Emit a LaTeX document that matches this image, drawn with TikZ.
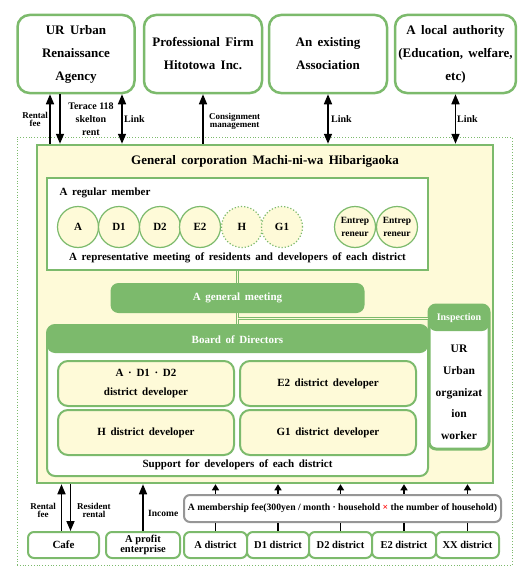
\documentclass[tikz,border=0pt]{standalone}
\usepackage{fontspec}
\setmainfont{Liberation Serif}
\usetikzlibrary{arrows.meta, positioning, calc}

\definecolor{grn}{RGB}{124,186,108}
\definecolor{cream}{RGB}{254,250,216}
\definecolor{feegray}{RGB}{150,150,150}
\newcommand{\fsz}[2]{\fontsize{#1}{#2}\selectfont\bfseries\spaceskip=.42em plus .1em\relax}
\newcommand{\fsn}[2]{\fontsize{#1}{#2}\selectfont\bfseries}

\begin{document}
\begin{tikzpicture}[x=1pt, y=-1pt,
    party/.style={rectangle, rounded corners=12pt, draw=grn, line width=2.5pt, fill=white, minimum width=117pt, minimum height=78pt, align=center, font=\fsz{13}{23}},
    circ/.style={circle, draw=grn, line width=1.2pt, fill=cream, minimum size=41pt, inner sep=0pt, align=center, font=\fsz{11}{11}},
    dcirc/.style={circ, dotted},
    devbox/.style={rectangle, rounded corners=10pt, draw=grn, line width=2pt, fill=cream, minimum width=176pt, minimum height=45pt, align=center, font=\fsz{11}{19}},
    dist/.style={rectangle, rounded corners=6pt, draw=grn, line width=2pt, fill=white, minimum height=26pt, inner sep=1pt, align=center, font=\fsn{10.5}{9}},
    note/.style={inner sep=1pt, align=center, font=\fsn{9}{8}},
    conn/.style={draw=grn, double=cream, double distance=1.6pt, line width=0.9pt},
    arr/.style={-{Triangle[length=10pt, width=8pt]}, line width=1.6pt},
    arrs/.style={{Triangle[length=10pt, width=8pt]}-{Triangle[length=10pt, width=8pt]}, line width=1.6pt},
    farr/.style={-{Triangle[length=6pt, width=7pt]}, line width=1.3pt}
]
\useasboundingbox (0,0) rectangle (528,578);

% Outside partners
\node[party] (ur) at (76,54) {UR Urban\\Renaissance\\Agency};
\node[party, minimum width=118pt] (firm) at (203,54) {Professional Firm\\Hitotowa Inc.};
\node[party, minimum width=118pt] (assoc) at (328,54) {An existing\\Association};
\node[party] (local) at (455.5,54) {A local authority\\(Education, welfare,\\etc)};

% Area of the corporation
\node[draw=grn, dotted, line width=0.8pt, minimum width=495pt, minimum height=428pt] (area) at (264.5,351) {};
\node[draw=grn, line width=2.5pt, fill=cream, minimum width=456pt, minimum height=338pt] (main) at (265,314) {};
\node[font=\fsz{13}{13}] (title) at (265,161) {General corporation Machi-ni-wa Hibarigaoka};

% Regular members
\node[draw=grn, line width=2pt, fill=white, minimum width=381pt, minimum height=92pt] (member) at (237.5,224) {};
\node[anchor=west, font=\fsz{11}{11}] (memlabel) at (56,193) {A regular member};
\node[circ] (ca) at (78,227) {A};
\node[circ] (cd1) at (119,227) {D1};
\node[circ] (cd2) at (160,227) {D2};
\node[circ] (ce2) at (200,227) {E2};
\node[dcirc] (ch) at (242,227) {H};
\node[dcirc] (cg1) at (282,227) {G1};
\node[circ, font=\fsn{9.5}{13}] (en1) at (355,227) {Entrep\\reneur};
\node[circ, font=\fsn{9.5}{13}] (en2) at (397,227) {Entrep\\reneur};
\node[font=\fsz{11}{11}] (rep) at (237.5,258) {A representative meeting of residents and developers of each district};

% General meeting
\node[rectangle, rounded corners=8pt, fill=grn, minimum width=254pt, minimum height=30pt, text=white, font=\fsz{11}{11}] (gm) at (237.5,298) {A general meeting};

% Board of directors
\node[draw=grn, line width=2pt, fill=white, rounded corners=8pt, minimum width=381pt, minimum height=151pt,
    path picture={\fill[grn] (path picture bounding box.north west) rectangle ([yshift=-28pt]path picture bounding box.north east);}] (board) at (237.5,400.5) {};
\node[text=white, font=\fsz{11}{11}] (boardlabel) at (237.5,340) {Board of Directors};
\node[devbox] (dad) at (146,383.5) {A · D1 · D2\\district developer};
\node[devbox] (de2) at (328,383.5) {E2 district developer};
\node[devbox] (dh) at (146,432.5) {H district developer};
\node[devbox] (dg1) at (328,432.5) {G1 district developer};
\node[font=\fsz{11}{11}] (support) at (237.5,465) {Support for developers of each district};

% Inspection
\node[draw=grn, line width=3pt, fill=white, rounded corners=7pt, minimum width=60pt, minimum height=144pt,
    path picture={\fill[grn] (path picture bounding box.north west) rectangle ([yshift=-26pt]path picture bounding box.north east);}] (insp) at (459,377) {};
\node[text=white, font=\fsn{10}{10}] (insplabel) at (459,318) {Inspection};
\node[align=center, font=\fsn{11.5}{21.75}] (inspbody) at (459,392.5) {UR\\Urban\\organizat\\ion\\worker};

% Inner connectors
\draw[conn] (member.south) -- (gm.north);
\draw[conn] (gm.south) -- (board.north);
\coordinate (split) at ($(gm.south)!0.5!(board.north)$);
\draw[conn] (split) -- (split -| insp.west);

% Fee and districts
\node[rectangle, rounded corners=6pt, draw=feegray, line width=2pt, fill=white, minimum width=317pt, minimum height=27pt, font=\fsn{9.7}{10}] (fee) at (342.5,508.5) {A membership fee(300yen / month · household {\color{red}×} the number of household)};
\node[dist, minimum width=71pt, font=\fsn{11}{11}] (cafe) at (63.5,545) {Cafe};
\node[dist, minimum width=74pt] (profit) at (143,545) {A profit\\enterprise};
\node[dist, minimum width=63pt] (adist) at (215.5,545) {A district};
\node[dist, minimum width=62pt] (d1dist) at (278,545) {D1 district};
\node[dist, minimum width=63pt] (d2dist) at (340.5,545) {D2 district};
\node[dist, minimum width=64pt] (e2dist) at (404,545) {E2 district};
\node[dist, minimum width=63pt] (xxdist) at (467.5,545) {XX district};

% Top arrows
\draw[arr] ($(ur.south |- main.north)+(-26,0)$) -- ($(ur.south)+(-26,0)$);
\draw[arr] ($(ur.south)+(-16,0)$) -- ($(ur.south |- main.north)+(-16,0)$);
\draw[arrs] ($(ur.south)+(46,0)$) -- ($(ur.south |- main.north)+(46,0)$);
\draw[arr] (firm.south |- main.north) -- (firm.south);
\draw[arrs] (assoc.south) -- (assoc.south |- main.north);
\draw[arrs] (local.south) -- (local.south |- main.north);
\node[note, anchor=east] (rentfee) at (49,119) {Rental\\fee};
\node[note, font=\fsn{10}{13}] (skelton) at (91,119) {Terace 118\\skelton\\rent};
\node[note, anchor=west, font=\fsn{10}{10}] (urlink) at (123,119) {Link};
\node[note, anchor=west] (consign) at (208,121) {Consignment\\management};
\node[note, anchor=west, font=\fsn{10}{10}] (assoclink) at (330,119) {Link};
\node[note, anchor=west, font=\fsn{10}{10}] (locallink) at (456,119) {Link};

% Bottom arrows
\draw[arr] ($(cafe.north)+(-2,0)$) -- ($(cafe.north |- main.south)+(-2,0)$);
\draw[arr] ($(cafe.north |- main.south)+(7,0)$) -- ($(cafe.north)+(7,0)$);
\draw[arr] (profit.north) -- (profit.north |- main.south);
\node[note, anchor=east] (cafefee) at (57,510) {Rental\\fee};
\node[note, anchor=west] (cafeRent) at (76,510) {Resident\\rental};
\node[note, anchor=west, font=\fsn{9.5}{9.5}] (income) at (147,513) {Income};
\foreach \d in {adist, d1dist, d2dist, e2dist, xxdist} {
    \draw[line width=1.6pt] (\d.north) -- (\d.north |- fee.south);
    \draw[farr] (\d.north |- fee.north) -- (\d.north |- main.south);
}

\end{tikzpicture}
\end{document}
